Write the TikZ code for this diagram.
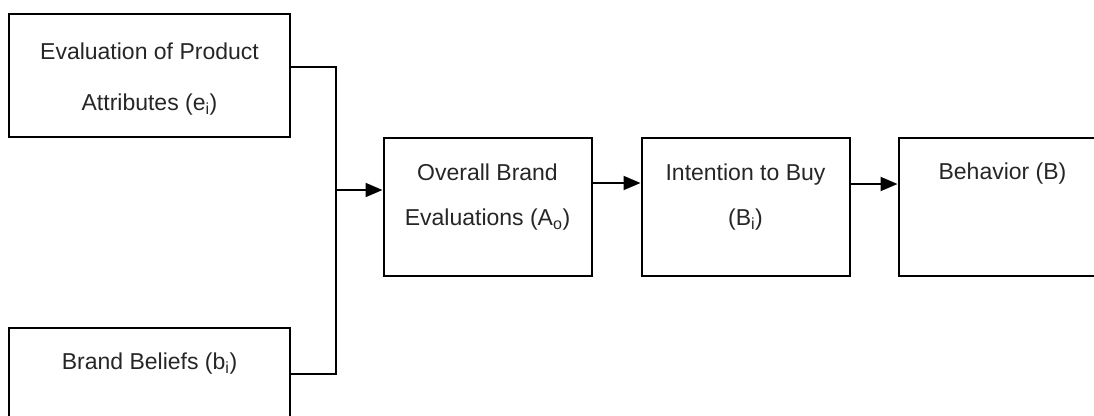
\documentclass[tikz,border=0pt]{standalone}
\usepackage{fontspec}
\setmainfont{Liberation Sans}
\usetikzlibrary{positioning,arrows.meta}

\begin{document}
\begin{tikzpicture}[x=1pt,y=-1pt, line width=2pt,
    nodes={inner sep=0, text=black!85},
    bigbox/.style={draw, align=center, minimum width=281pt,
      minimum height=123pt, text height=96.5pt, text depth=26.5pt,
      font=\fontsize{23}{51}\selectfont},
    rowbox/.style={draw, align=center, minimum width=208pt,
      minimum height=138pt, text height=87.5pt, text depth=50.5pt,
      font=\fontsize{23}{45}\selectfont},
    link/.style={-{Triangle[length=17pt,width=14pt]}}]
  \useasboundingbox (0,0) rectangle (1094,415);
  \clip (0,0) rectangle (1094,415);
  % left column
  \node[bigbox] (attr) at (149.5,75.5) {Evaluation of Product\\Attributes (e\textsubscript{i})};
  \node[bigbox, text height=92.5pt, text depth=30.5pt] (belief) at (149.5,389.5) {Brand Beliefs (b\textsubscript{i})\\\mbox{}};
  % row of stages
  \node[rowbox] (overall) at (487.5,207) {Overall Brand\\Evaluations (A\textsubscript{o})};
  \node[rowbox, right=48pt of overall] (intent) {Intention to Buy\\(B\textsubscript{i})};
  \node[rowbox, text height=86.5pt, text depth=51.5pt, right=47pt of intent] (behav) {Behavior (B)\\\mbox{}};
  % connectors
  \coordinate (join) at (336,190);
  \draw ([yshift=8.5pt]attr.east) -| (join) |- ([yshift=15.5pt]belief.east);
  \draw[link] (join) -- (join -| overall.west);
  \draw[link] ([yshift=24pt]overall.east) -- ([yshift=24pt]intent.west);
  \draw[link] ([yshift=23pt]intent.east) -- ([yshift=23pt]behav.west);
\end{tikzpicture}
\end{document}
